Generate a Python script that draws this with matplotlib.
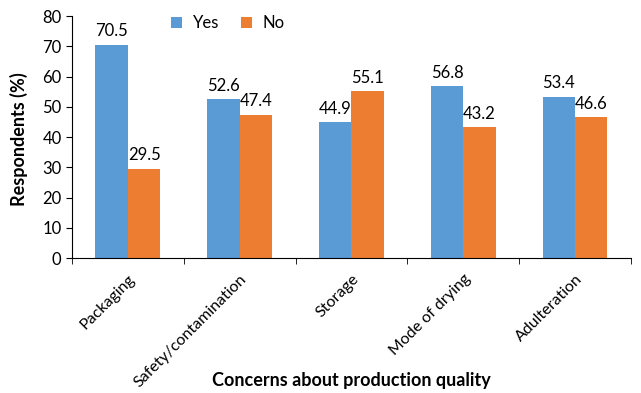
import numpy as np
import matplotlib.pyplot as plt

plt.rcParams['font.family'] = ['Lato', 'DejaVu Sans']

categories = ["Packaging", "Safety/contamination", "Storage", "Mode of drying", "Adulteration"]
yes_vals = [70.5, 52.6, 44.9, 56.8, 53.4]
no_vals = [29.5, 47.4, 55.1, 43.2, 46.6]

fig = plt.figure(figsize=(6.41, 3.93), dpi=100)
ax = fig.add_axes([0.1123, 0.3435, 0.872, 0.6155])

x = np.arange(len(categories))
w = 0.29
b1 = ax.bar(x - w / 2, yes_vals, w, color="#5B9BD5", label="Yes")
b2 = ax.bar(x + w / 2, no_vals, w, color="#ED7D31", label="No")

for bars, vals in ((b1, yes_vals), (b2, no_vals)):
    for r, v in zip(bars, vals):
        ax.text(r.get_x() + r.get_width() / 2, v + 1.8, f"{v}", ha="center", va="bottom", fontsize=12)

ax.set_xlim(-0.5, len(categories) - 0.5)
ax.set_ylim(0, 80)
ax.set_yticks(range(0, 81, 10))
ax.tick_params(axis="y", labelsize=12, length=4, direction="out")

ax.set_xticks(x)
ax.set_xticklabels(categories, rotation=45, ha="right", rotation_mode="anchor", fontsize=11.5)
ax.tick_params(axis="x", which="major", length=0, pad=10)
ax.set_xticks(np.arange(-0.5, len(categories) + 0.5, 1), minor=True)
ax.tick_params(axis="x", which="minor", length=4, direction="out")

for s in ("top", "right"):
    ax.spines[s].set_visible(False)

ax.set_ylabel("Respondents (%)", fontsize=13, fontweight="bold", va="center")
ax.yaxis.set_label_coords(-0.095, 0.49)
ax.set_xlabel("Concerns about production quality", fontsize=13, fontweight="bold", va="center")
ax.xaxis.set_label_coords(0.5, -0.505)

ax.legend(loc="upper left", bbox_to_anchor=(0.15, 1.065), ncol=2, frameon=False,
          fontsize=12, handlelength=0.7, handleheight=0.7, columnspacing=1.3, handletextpad=0.6)

fig.savefig("out.png", dpi=100)
